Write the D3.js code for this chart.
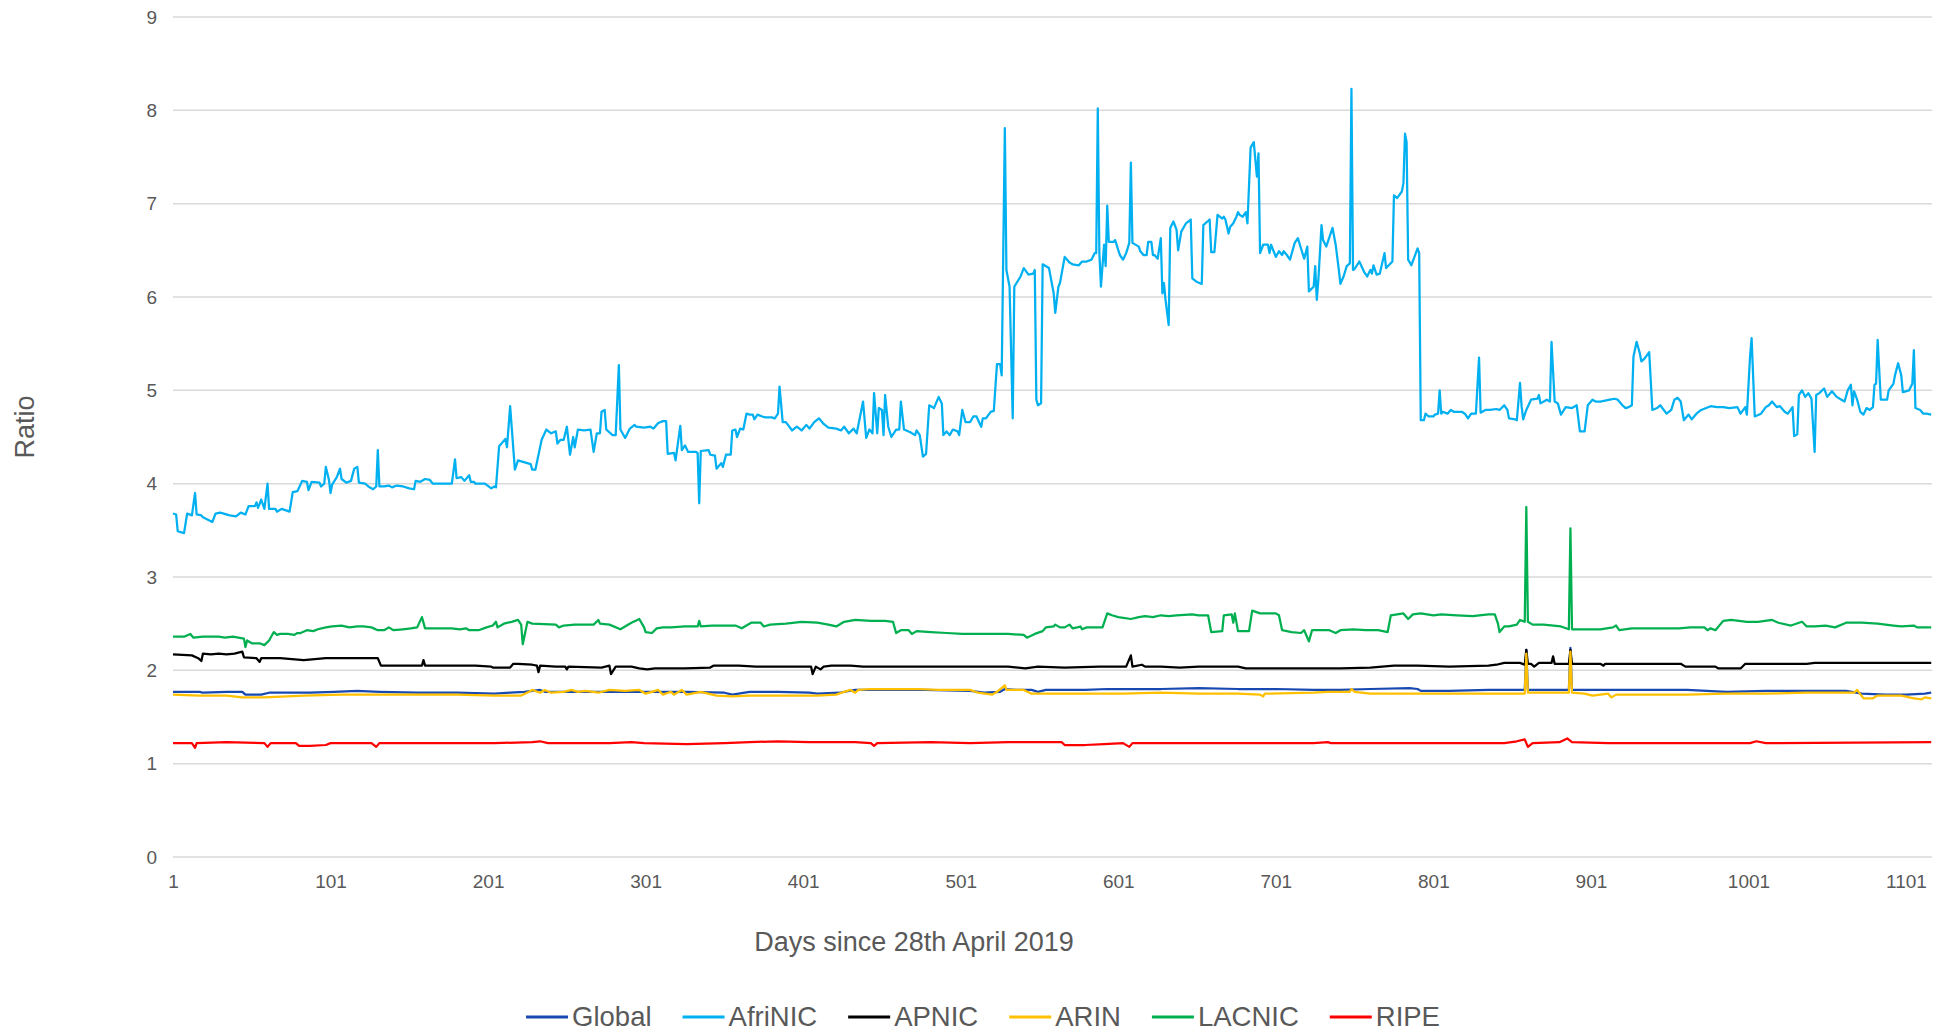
<!DOCTYPE html>
<html>
<head>
<meta charset="utf-8">
<script src="https://cdn.jsdelivr.net/npm/d3@7"></script>
<style>
  html, body { margin: 0; padding: 0; background: #fff; }
  svg { display: block; font-family: "Liberation Sans", Arial, sans-serif; }
</style>
</head>
<body>
<svg width="1952" height="1032"></svg>
<script>
// [day, ratio] pairs, line goes straight between them
const globalRatio = [[1,1.77],[18,1.77],[20,1.76],[35,1.77],[45,1.77],[47,1.74],[57,1.74],[62,1.76],[79,1.76],[88,1.76],[103,1.77],[118,1.78],[132,1.77],[156,1.76],[181,1.76],[205,1.75],[215,1.76],[224,1.77],[229,1.78],[234,1.79],[237,1.77],[244,1.77],[254,1.77],[278,1.77],[302,1.77],[327,1.77],[351,1.76],[356,1.74],[367,1.77],[385,1.77],[405,1.76],[410,1.75],[424,1.76],[434,1.79],[446,1.79],[458,1.79],[478,1.79],[507,1.78],[516,1.76],[526,1.77],[529,1.80],[536,1.79],[546,1.79],[550,1.77],[555,1.79],[580,1.79],[594,1.80],[628,1.80],[652,1.81],[677,1.80],[701,1.80],[725,1.79],[742,1.79],[761,1.80],[786,1.81],[791,1.80],[793,1.78],[811,1.78],[836,1.79],[859,1.79],[860,2.22],[861,1.79],[887,1.79],[888,2.24],[889,1.79],[912,1.79],[937,1.79],[962,1.79],[987,1.77],[1012,1.78],[1038,1.78],[1063,1.78],[1073,1.75],[1088,1.74],[1101,1.74],[1113,1.75],[1117,1.76]];

const afrinic = [[1,3.68],[3,3.67],[4,3.49],[8,3.47],[10,3.68],[13,3.66],[15,3.90],[16,3.67],[19,3.66],[20,3.64],[26,3.59],[28,3.68],[31,3.69],[37,3.66],[41,3.65],[44,3.69],[47,3.67],[49,3.76],[53,3.76],[54,3.80],[55,3.74],[57,3.83],[59,3.73],[61,4.00],[62,3.73],[66,3.73],[67,3.70],[70,3.73],[75,3.70],[77,3.91],[80,3.92],[83,4.03],[86,4.02],[87,3.93],[89,4.02],[94,4.01],[95,3.97],[97,4.00],[98,4.18],[100,4.04],[101,3.90],[102,3.99],[105,4.07],[107,4.16],[108,4.05],[111,4.01],[114,4.03],[116,4.16],[118,4.18],[119,4.01],[123,4.00],[125,3.97],[128,3.94],[130,3.97],[131,4.36],[132,3.97],[135,3.97],[138,3.98],[140,3.96],[143,3.98],[147,3.97],[151,3.95],[154,3.94],[155,4.03],[158,4.02],[161,4.05],[164,4.04],[166,4.00],[171,4.00],[178,4.00],[180,4.26],[181,4.06],[184,4.07],[186,4.03],[189,4.09],[190,4.02],[192,4.02],[193,4.00],[199,4.00],[203,3.95],[205,3.97],[206,3.96],[208,4.40],[212,4.48],[213,4.39],[215,4.83],[218,4.15],[220,4.25],[228,4.21],[229,4.15],[231,4.15],[235,4.47],[238,4.58],[241,4.54],[244,4.56],[245,4.43],[247,4.47],[249,4.47],[251,4.61],[253,4.31],[255,4.50],[256,4.39],[258,4.58],[262,4.57],[266,4.58],[268,4.34],[270,4.54],[272,4.54],[273,4.77],[275,4.79],[276,4.58],[280,4.52],[282,4.52],[284,5.27],[285,4.58],[288,4.49],[291,4.59],[294,4.63],[295,4.61],[300,4.60],[304,4.61],
  [306,4.59],[309,4.65],[312,4.67],[314,4.67],[315,4.32],[319,4.33],[320,4.25],[323,4.62],[324,4.36],[326,4.41],[328,4.34],[333,4.34],[334,4.33],[335,3.79],[336,4.35],[341,4.36],[342,4.31],[345,4.30],[346,4.16],[349,4.22],[350,4.18],[352,4.31],[355,4.31],[356,4.57],[358,4.58],[359,4.50],[361,4.59],[363,4.58],[365,4.75],[367,4.74],[369,4.74],[370,4.69],[372,4.74],[375,4.72],[377,4.71],[381,4.71],[383,4.70],[385,4.75],[386,5.04],[388,4.66],[390,4.66],[394,4.57],[397,4.61],[400,4.57],[403,4.63],[405,4.59],[408,4.66],[411,4.70],[414,4.64],[417,4.60],[422,4.59],[425,4.57],[427,4.61],[430,4.54],[433,4.59],[435,4.54],[439,4.88],[441,4.49],[443,4.58],[445,4.54],[446,4.97],[448,4.54],[449,4.81],[451,4.79],[452,4.52],[453,4.95],[455,4.61],[457,4.50],[460,4.58],[462,4.58],[463,4.88],[465,4.58],[469,4.55],[472,4.52],[473,4.57],[475,4.52],[477,4.29],[479,4.32],[481,4.84],[484,4.81],[487,4.93],[489,4.86],[490,4.52],[492,4.56],[494,4.52],[496,4.58],[499,4.56],[500,4.52],[502,4.79],[504,4.66],[507,4.66],[509,4.72],[511,4.72],[514,4.61],[515,4.70],[517,4.70],[520,4.77],[522,4.78],[524,5.28],[526,5.28],[527,5.16],[529,7.81],[530,6.29],[532,6.11],[534,4.70],[535,6.11],[539,6.22],[541,6.31],[544,6.24],[547,6.25],[548,6.29],[549,4.90],[550,4.84],[552,4.86],[553,6.35],[557,6.31],[560,6.04],[561,5.83],[563,6.11],[564,6.15],[567,6.43],[570,6.37],[572,6.35],[576,6.34],[578,6.38],[581,6.38],[584,6.40],[586,6.47],[587,6.47],[588,8.02],[589,6.47],[590,6.11],[592,6.56],[593,6.33],[594,6.98],[595,6.59],[598,6.59],[599,6.61],[602,6.45],[604,6.40],[606,6.47],[608,6.58],[609,7.44],[610,6.58],[614,6.54],[615,6.49],
  [617,6.45],[619,6.45],[620,6.59],[622,6.59],[623,6.45],[624,6.45],[626,6.41],[628,6.63],[629,6.04],[630,6.15],[631,5.97],[633,5.70],[634,6.74],[636,6.81],[638,6.72],[639,6.50],[641,6.70],[644,6.79],[647,6.83],[648,6.20],[651,6.16],[654,6.14],[655,6.77],[659,6.83],[660,6.48],[662,6.48],[664,6.88],[667,6.84],[668,6.86],[669,6.83],[671,6.68],[672,6.75],[674,6.79],[676,6.86],[677,6.91],[678,6.88],[680,6.86],[682,6.91],[683,6.79],[685,7.60],[687,7.66],[689,7.29],[690,7.54],[691,6.47],[693,6.56],[696,6.56],[697,6.47],[698,6.56],[701,6.43],[703,6.49],[705,6.45],[706,6.49],[708,6.45],[710,6.40],[713,6.58],[715,6.63],[717,6.52],[719,6.41],[721,6.54],[722,6.06],[725,6.11],[726,6.33],[727,5.97],[728,6.18],[730,6.77],[731,6.61],[733,6.54],[737,6.74],[739,6.56],[741,6.29],[742,6.14],[744,6.22],[746,6.33],[748,6.36],[749,8.23],[750,6.29],[751,6.30],[754,6.38],[757,6.27],[759,6.22],[761,6.29],[762,6.25],[763,6.34],[765,6.24],[767,6.25],[769,6.40],[770,6.47],[771,6.31],[775,6.38],[776,7.09],[778,7.06],[781,7.13],[782,7.22],[783,7.75],[784,7.66],[785,6.40],[787,6.34],[789,6.43],[791,6.52],[792,6.47],[793,4.68],[795,4.68],[796,4.75],[798,4.72],[801,4.72],[802,4.74],[804,4.75],[805,5.00],[806,4.75],[807,4.77],[810,4.75],[812,4.79],[814,4.77],[819,4.77],[821,4.75],[823,4.70],[825,4.75],[828,4.75],[830,5.35],[831,4.76],[834,4.79],[837,4.79],[841,4.80],[843,4.79],[846,4.84],[848,4.79],[849,4.70],[853,4.69],[854,4.68],[856,5.08],[857,4.83],[858,4.69],
  [860,4.79],[863,4.90],[867,4.91],[868,4.95],[869,4.86],[873,4.90],[875,4.88],[876,5.52],[878,4.88],[880,4.86],[882,4.74],[885,4.82],[889,4.81],[892,4.84],[894,4.56],[897,4.56],[899,4.84],[902,4.90],[904,4.88],[907,4.88],[913,4.90],[916,4.91],[918,4.90],[921,4.84],[923,4.81],[925,4.82],[927,4.84],[928,5.36],[930,5.52],[932,5.40],[933,5.31],[935,5.34],[938,5.41],[940,4.79],[943,4.81],[945,4.84],[949,4.75],[952,4.79],[954,4.90],[956,4.92],[958,4.88],[960,4.68],[963,4.74],[965,4.69],[968,4.75],[971,4.79],[977,4.83],[981,4.82],[985,4.82],[989,4.81],[994,4.82],[996,4.75],[999,4.82],[1000,4.74],[1002,5.36],[1003,5.56],[1005,4.72],[1009,4.75],[1012,4.82],[1014,4.84],[1016,4.88],[1019,4.82],[1021,4.83],[1024,4.77],[1026,4.75],[1029,4.82],[1030,4.51],[1032,4.53],[1033,4.95],[1035,5.00],[1037,4.93],[1039,4.97],[1041,4.91],[1043,4.34],[1044,4.95],[1046,4.97],[1049,5.02],[1051,4.93],[1054,4.99],[1057,4.93],[1060,4.90],[1062,4.88],[1064,5.00],[1066,5.06],[1067,4.84],[1068,4.99],[1070,4.90],[1072,4.77],[1074,4.74],[1076,4.81],[1078,4.79],[1080,4.82],[1081,5.06],[1082,5.07],[1083,5.54],[1085,4.90],[1089,4.90],[1090,5.00],[1093,5.07],[1094,5.16],[1096,5.29],[1098,5.16],[1099,4.98],[1103,5.00],[1105,5.07],[1106,5.43],[1107,4.81],[1110,4.79],[1112,4.75],[1114,4.75],[1117,4.74]];

const apnic = [[1,2.17],[13,2.16],[17,2.13],[19,2.10],[20,2.18],[25,2.17],[30,2.18],[35,2.17],[40,2.18],[45,2.20],[46,2.14],[54,2.13],[56,2.09],[57,2.13],[69,2.13],[84,2.11],[98,2.13],[118,2.13],[131,2.13],[133,2.05],[142,2.05],[152,2.05],[159,2.05],[160,2.11],[161,2.05],[176,2.05],[193,2.05],[203,2.04],[204,2.03],[215,2.03],[217,2.07],[220,2.07],[229,2.06],[232,2.05],[233,1.98],[234,2.05],[244,2.04],[250,2.04],[251,2.01],[252,2.04],[273,2.03],[278,2.05],[279,1.96],[282,2.04],[292,2.04],[297,2.02],[302,2.01],[307,2.02],[314,2.02],[326,2.02],[342,2.03],[344,2.05],[360,2.05],[371,2.04],[383,2.04],[393,2.04],[406,2.04],[407,1.96],[409,2.04],[412,2.01],[414,2.04],[419,2.05],[431,2.05],[439,2.04],[448,2.04],[458,2.04],[478,2.04],[497,2.04],[516,2.04],[531,2.04],[542,2.02],[550,2.04],[567,2.03],[589,2.04],[606,2.04],[609,2.16],[610,2.04],[616,2.06],[618,2.04],[628,2.04],[640,2.03],[652,2.04],[677,2.04],[682,2.02],[701,2.02],[725,2.02],[742,2.02],[761,2.03],[776,2.05],[791,2.05],[811,2.04],[836,2.05],[841,2.06],[846,2.08],[856,2.08],[859,2.06],[860,2.22],[861,2.07],[863,2.07],[865,2.04],[868,2.08],[876,2.08],[877,2.15],[878,2.07],[887,2.07],[888,2.22],[889,2.07],[907,2.07],[909,2.05],[910,2.07],[958,2.07],[961,2.04],[980,2.04],[982,2.02],[996,2.02],[999,2.07],[1038,2.07],[1043,2.08],[1088,2.08],[1117,2.08]];

const arin = [[1,1.74],[18,1.73],[35,1.73],[45,1.71],[54,1.71],[59,1.71],[84,1.73],[108,1.74],[132,1.74],[156,1.74],[181,1.74],[205,1.73],[222,1.73],[227,1.77],[229,1.79],[234,1.76],[237,1.79],[241,1.76],[249,1.77],[254,1.79],[258,1.77],[263,1.78],[271,1.76],[278,1.79],[288,1.78],[297,1.79],[301,1.75],[305,1.77],[309,1.79],[312,1.74],[317,1.77],[319,1.74],[324,1.79],[327,1.74],[336,1.77],[346,1.73],[356,1.72],[367,1.73],[385,1.73],[410,1.73],[422,1.74],[427,1.77],[431,1.79],[434,1.76],[436,1.79],[444,1.80],[458,1.80],[473,1.80],[487,1.79],[507,1.79],[512,1.76],[521,1.74],[524,1.77],[529,1.84],[530,1.79],[541,1.79],[546,1.75],[555,1.75],[580,1.75],[604,1.75],[628,1.76],[652,1.75],[677,1.75],[691,1.74],[693,1.72],[694,1.75],[725,1.76],[734,1.77],[742,1.77],[748,1.77],[749,1.80],[751,1.77],[761,1.75],[786,1.75],[811,1.75],[859,1.75],[860,2.18],[861,1.76],[887,1.76],[888,2.20],[889,1.76],[897,1.75],[902,1.73],[912,1.75],[914,1.71],[917,1.74],[937,1.74],[962,1.74],[987,1.75],[1012,1.75],[1038,1.76],[1068,1.76],[1070,1.79],[1074,1.70],[1080,1.70],[1083,1.73],[1098,1.73],[1106,1.70],[1111,1.69],[1113,1.71],[1117,1.70]];

const lacnic = [[1,2.36],[8,2.36],[12,2.39],[14,2.35],[20,2.36],[25,2.36],[30,2.36],[34,2.35],[39,2.36],[46,2.34],[47,2.25],[48,2.32],[51,2.29],[56,2.29],[59,2.27],[62,2.32],[65,2.41],[67,2.38],[69,2.39],[74,2.39],[78,2.38],[80,2.40],[82,2.40],[86,2.43],[90,2.42],[93,2.44],[98,2.46],[102,2.47],[108,2.48],[113,2.46],[118,2.47],[122,2.47],[127,2.46],[131,2.43],[135,2.43],[138,2.46],[141,2.43],[147,2.44],[152,2.45],[156,2.46],[159,2.57],[161,2.45],[166,2.45],[171,2.45],[178,2.45],[183,2.44],[187,2.45],[189,2.43],[195,2.43],[200,2.46],[204,2.48],[206,2.52],[207,2.46],[211,2.50],[216,2.52],[220,2.54],[222,2.49],[223,2.28],[226,2.52],[229,2.50],[244,2.49],[246,2.46],[249,2.48],[256,2.49],[268,2.49],[271,2.54],[272,2.50],[278,2.49],[285,2.44],[289,2.48],[292,2.51],[297,2.55],[300,2.46],[301,2.41],[305,2.40],[308,2.45],[312,2.46],[317,2.46],[326,2.47],[334,2.47],[335,2.53],[336,2.47],[343,2.48],[351,2.48],[358,2.48],[362,2.45],
  [368,2.51],[374,2.51],[376,2.47],[380,2.49],[390,2.50],[400,2.52],[410,2.51],[417,2.49],[422,2.47],[427,2.52],[434,2.54],[444,2.53],[453,2.53],[458,2.52],[460,2.40],[463,2.43],[468,2.43],[470,2.39],[473,2.42],[482,2.41],[492,2.40],[502,2.39],[512,2.39],[521,2.39],[531,2.39],[541,2.38],[543,2.35],[548,2.39],[553,2.42],[555,2.46],[560,2.47],[561,2.49],[564,2.46],[567,2.46],[570,2.49],[572,2.45],[575,2.46],[577,2.47],[578,2.44],[581,2.46],[584,2.46],[591,2.46],[594,2.61],[597,2.59],[601,2.57],[609,2.55],[614,2.57],[618,2.58],[623,2.57],[628,2.59],[633,2.58],[638,2.59],[648,2.60],[652,2.59],[658,2.59],[660,2.41],[667,2.42],[668,2.59],[673,2.60],[674,2.51],[675,2.61],[677,2.42],[684,2.42],[686,2.64],[691,2.61],[701,2.61],[703,2.59],[705,2.43],[711,2.41],[717,2.40],[719,2.43],[722,2.31],[724,2.43],[732,2.43],[735,2.43],[739,2.40],[742,2.43],
  [750,2.44],[758,2.43],[766,2.43],[772,2.41],[774,2.59],[782,2.61],[785,2.55],[788,2.60],[793,2.61],[801,2.59],[806,2.60],[816,2.59],[826,2.58],[836,2.60],[840,2.60],[842,2.50],[843,2.41],[846,2.47],[849,2.47],[854,2.49],[856,2.54],[859,2.52],[860,3.75],[861,2.52],[864,2.49],[871,2.49],[882,2.47],[887,2.44],[888,3.52],[889,2.44],[897,2.44],[907,2.44],[915,2.46],[917,2.48],[919,2.43],[927,2.45],[937,2.45],[949,2.45],[957,2.45],[964,2.46],[973,2.46],[975,2.43],[977,2.45],[980,2.43],[985,2.53],[990,2.54],[1000,2.52],[1007,2.52],[1016,2.54],[1020,2.51],[1028,2.48],[1035,2.52],[1038,2.47],[1043,2.47],[1050,2.48],[1056,2.46],[1063,2.51],[1073,2.51],[1083,2.50],[1093,2.48],[1098,2.47],[1106,2.48],[1108,2.46],[1117,2.46]];

const ripe = [[1,1.22],[13,1.22],[15,1.17],[16,1.22],[35,1.23],[59,1.22],[61,1.18],[63,1.22],[79,1.22],[81,1.19],[88,1.19],[98,1.20],[101,1.22],[127,1.22],[130,1.18],[132,1.22],[156,1.22],[205,1.22],[229,1.23],[234,1.24],[239,1.22],[278,1.22],[292,1.23],[300,1.22],[327,1.21],[351,1.22],[367,1.23],[385,1.24],[405,1.23],[434,1.23],[444,1.22],[446,1.19],[448,1.22],[482,1.23],[507,1.22],[531,1.23],[565,1.23],[567,1.20],[580,1.20],[592,1.21],[604,1.22],[608,1.18],[610,1.22],[640,1.22],[725,1.22],[734,1.23],[736,1.22],[786,1.22],[846,1.22],[854,1.24],[859,1.26],[861,1.18],[864,1.22],[881,1.23],[886,1.27],[889,1.23],[912,1.22],[1002,1.22],[1006,1.24],[1012,1.22],[1117,1.23]];

const seriesNames = ["Global", "AfriNIC", "APNIC", "ARIN", "LACNIC", "RIPE"];
const seriesColors = ["#1849b0", "#00b0f0", "#000000", "#ffc000", "#00b050", "#ff0000"];
const seriesData = [globalRatio, afrinic, apnic, arin, lacnic, ripe];

const yTicks = [0, 1, 2, 3, 4, 5, 6, 7, 8, 9];
const xTicks = [1, 101, 201, 301, 401, 501, 601, 701, 801, 901, 1001, 1101];

function draw()
{
    let svg = d3.select("svg");

    let x = d3.scaleLinear().domain([1, 1101]).range([173, 1906]);
    let y = d3.scaleLinear().domain([0, 9]).range([857, 17]);

    const plotRight = 1932;
    const textColor = "#595959";

    // gridlines
    svg.append("g")
        .selectAll("line")
        .data(yTicks)
        .enter()
        .append("line")
        .attr("x1", x(1))
        .attr("x2", plotRight)
        .attr("y1", d => y(d))
        .attr("y2", d => y(d))
        .style("stroke", "#d9d9d9")
        .style("stroke-width", 1.5);

    // y axis labels, no axis line in the original
    let yAxis = d3.axisLeft(y).tickValues(yTicks).tickSize(0).tickPadding(0);
    svg.append("g")
        .attr("transform", "translate(157,0)")
        .call(yAxis)
        .call(g => g.select(".domain").remove())
        .selectAll("text")
        .attr("fill", textColor)
        .style("font-size", "19px")
        .style("font-family", "'Liberation Sans', Arial, sans-serif");

    let xAxis = d3.axisBottom(x).tickValues(xTicks).tickSize(0).tickPadding(0).tickFormat(d3.format("d"));
    svg.append("g")
        .attr("transform", "translate(0,874)")
        .call(xAxis)
        .call(g => g.select(".domain").remove())
        .selectAll("text")
        .attr("fill", textColor)
        .attr("dy", "0.71em")
        .style("font-size", "19px")
        .style("font-family", "'Liberation Sans', Arial, sans-serif");

    // series, drawn in legend order so RIPE ends up on top
    let line = d3.line()
        .x(d => x(d[0]))
        .y(d => y(d[1]));

    svg.append("g")
        .selectAll(".series")
        .data(seriesData)
        .enter()
        .append("path")
        .attr("class", "series")
        .attr("fill", "none")
        .attr("d", line)
        .style("stroke", (d, i) => seriesColors[i])
        .style("stroke-width", 2.25)
        .style("stroke-linejoin", "round");

    // axis titles
    svg.append("text")
        .attr("x", 914)
        .attr("y", 951)
        .attr("text-anchor", "middle")
        .attr("fill", textColor)
        .style("font-size", "27px")
        .text("Days since 28th April 2019");

    svg.append("text")
        .attr("transform", "translate(34,427) rotate(-90)")
        .attr("text-anchor", "middle")
        .attr("fill", textColor)
        .style("font-size", "27px")
        .text("Ratio");

    // legend along the bottom
    let legend = svg.append("g");
    let items = legend.selectAll(".item")
        .data(seriesNames)
        .enter()
        .append("g")
        .attr("class", "item");

    items.append("line")
        .attr("x1", 0)
        .attr("x2", 42)
        .attr("y1", 1017)
        .attr("y2", 1017)
        .style("stroke", (d, i) => seriesColors[i])
        .style("stroke-width", 3);

    items.append("text")
        .attr("x", 46)
        .attr("y", 1026)
        .attr("fill", textColor)
        .style("font-size", "27.5px")
        .text(d => d);

    const itemGap = 31;
    let offset = 0;
    let offsets = [];
    items.each(function() {
        offsets.push(offset);
        let w = d3.select(this).select("text").node().getComputedTextLength();
        offset += 46 + w + itemGap;
    });
    let total = offset - itemGap;
    let start = 983 - total / 2;
    items.attr("transform", (d, i) => `translate(${start + offsets[i]},0)`);
}

draw();
</script>
</body>
</html>
